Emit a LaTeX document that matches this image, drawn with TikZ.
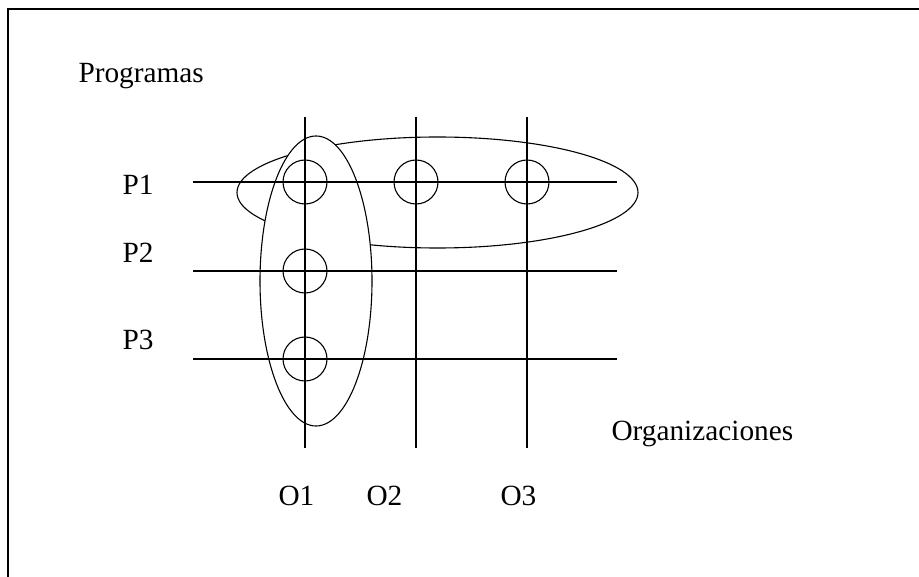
\documentclass[tikz,border=0pt]{standalone}
\usepackage{fontspec}
\setmainfont{Liberation Serif}
\usetikzlibrary{positioning,shapes.geometric}

\begin{document}
\begin{tikzpicture}[x=1pt,y=-1pt, line width=1.1pt,
    every node/.style={font=\fontsize{29.3}{35}\selectfont},
    ring/.style={draw, circle, minimum size=44pt, inner sep=0pt},
    group/.style={draw, ellipse, fill=white, inner sep=0pt}]
      \useasboundingbox (0,0) rectangle (919,577);
      \coordinate (fb) at (8,577);
      \coordinate (fc) at (8,9);
      \coordinate (fr) at (919,9);
      \draw (fb) -- (fc) -- (fr);
      \node[group, minimum width=401pt, minimum height=111pt] (row) at (437.5,192.5) {};
      \node[group, minimum width=112pt, minimum height=290pt] (col) at (316,281) {};
      \foreach \n/\y in {1/182,2/271,3/359} {
        \coordinate (p\n w) at (193,\y);
        \coordinate (p\n e) at (617,\y);
        \draw (p\n w) -- (p\n e);
      }
      \foreach \n/\x in {1/305,2/416,3/527} {
        \coordinate (o\n t) at (\x,117);
        \coordinate (o\n b) at (\x,448);
        \draw (o\n t) -- (o\n b);
      }
      \node[ring] (c11) at (305,182) {};
      \node[ring] (c21) at (416,182) {};
      \node[ring] (c31) at (527,182) {};
      \node[ring] (c12) at (305,271) {};
      \node[ring] (c13) at (305,359) {};
      \node[anchor=base west, inner sep=0pt] (prog) at (78,83) {Programas};
      \node[anchor=base west, inner sep=0pt] (lp1) at (122,195) {P1};
      \node[anchor=base west, inner sep=0pt] (lp2) at (122,263) {P2};
      \node[anchor=base west, inner sep=0pt] (lp3) at (122,350) {P3};
      \node[anchor=base west, inner sep=0pt] (lo1) at (278,505) {O1};
      \node[anchor=base west, inner sep=0pt] (lo2) at (366,505) {O2};
      \node[anchor=base west, inner sep=0pt] (lo3) at (500,505) {O3};
      \node[anchor=base west, inner sep=0pt] (orgs) at (611,441) {Organizaciones};
    \end{tikzpicture}
\end{document}
